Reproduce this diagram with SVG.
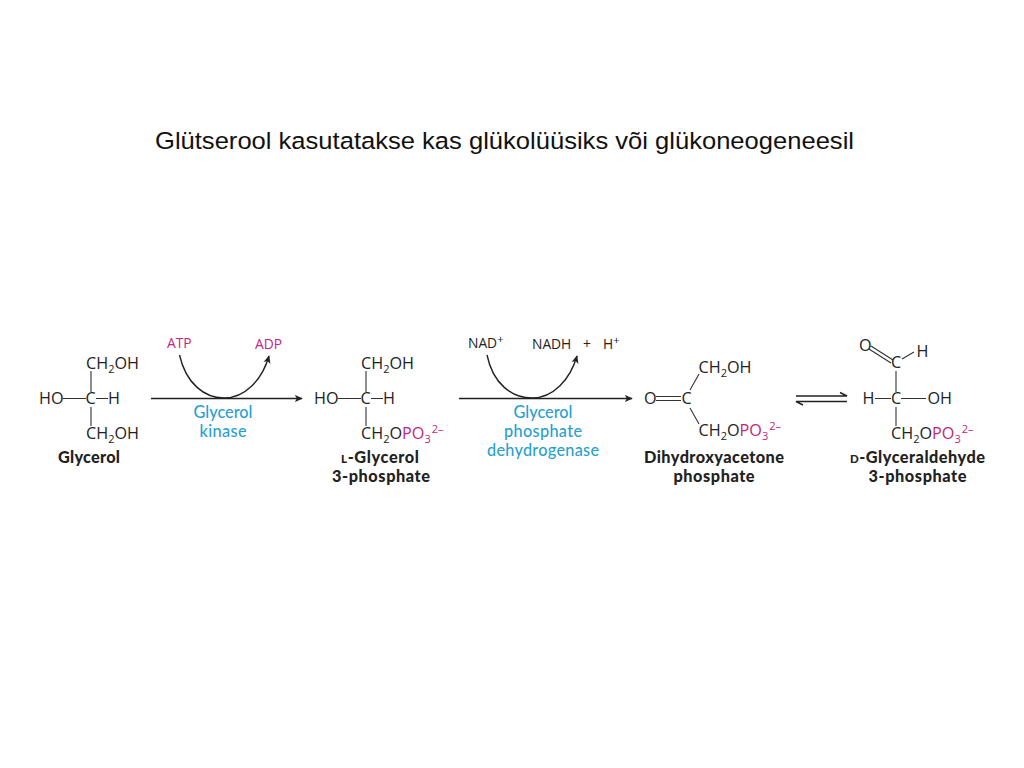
<svg xmlns="http://www.w3.org/2000/svg" width="1024" height="768" viewBox="0 0 1024 768">
<style>
text{font-family:"Open Sans","Noto Sans","Liberation Sans",sans-serif;font-size:16.200px;fill:#222}
.title{font-family:"Liberation Sans",Arial,sans-serif;font-size:24.500px;fill:#111}
.b{font-family:Lato,"Open Sans",sans-serif;font-weight:900;font-size:16.300px;text-anchor:middle}
.sc{font-size:11.500px}
.e{font-family:Lato,"Open Sans",sans-serif;fill:#2a9fd0;font-size:16.300px;text-anchor:middle;font-weight:500}
.m{fill:#c4257f}
.r{font-size:13.800px;font-weight:500}
.s{font-size:11px}
.bond{stroke:#333;stroke-width:1.1;fill:none}
.arr{stroke:#222;stroke-width:1.4;fill:none}
</style>
<defs>
<marker id="h" viewBox="0 0 10 10" refX="9" refY="5" markerWidth="8" markerHeight="8" markerUnits="userSpaceOnUse" orient="auto"><path d="M0 0.5 L10 5 L0 9.5 L2.5 5 Z" fill="#222"/></marker>
</defs>
<text id="title" class="title" x="155" y="149" textLength="699" lengthAdjust="spacingAndGlyphs">Glütserool kasutatakse kas glükolüüsiks või glükoneogeneesil</text>

<g id="connectors">
<path class="arr" d="M151 398.500H302" marker-end="url(#h)"/>
<path class="arr" d="M179.500 355C186 384 205 398 224 398C245 398 262 380 269 356" marker-end="url(#h)"/>
<path class="arr" d="M459 398.500H632" marker-end="url(#h)"/>
<path class="arr" d="M487 355C493 384 512 398 532 398C553 398 570 380 577 356" marker-end="url(#h)"/>
<path class="arr" d="M796 396H847L840 392.500"/>
<path class="arr" d="M847 401.500H796L803 405"/>
</g>

<g id="glycerol">
<path class="bond" d="M91 371V392M91 407V426M62.500 398.500H86M96 398.500H108"/>
<text x="86" y="369">CH<tspan class="s" dy="4">2</tspan><tspan dy="-4">OH</tspan></text>
<text x="39" y="404">HO</text><text x="85.500" y="404">C</text><text x="108" y="404">H</text>
<text x="86" y="439">CH<tspan class="s" dy="4">2</tspan><tspan dy="-4">OH</tspan></text>
<text class="b" x="89" y="463" textLength="62">Glycerol</text>
</g>

<g id="atp"><text class="m r" x="167" y="348">ATP</text></g>
<g id="adp"><text class="m r" x="255" y="349">ADP</text></g>
<g id="enzyme1"><text class="e" x="223" y="418" textLength="59">Glycerol</text><text class="e" x="223" y="437" textLength="47">kinase</text></g>

<g id="g3p">
<path class="bond" d="M366 371V392M366 407V426M338 398.500H361M371 398.500H383"/>
<text x="361" y="369">CH<tspan class="s" dy="4">2</tspan><tspan dy="-4">OH</tspan></text>
<text x="314" y="404">HO</text><text x="360.500" y="404">C</text><text x="383" y="404">H</text>
<text x="361" y="439">CH<tspan class="s" dy="4">2</tspan><tspan dy="-4">O</tspan><tspan class="m">PO</tspan><tspan class="s m" dy="4">3</tspan><tspan class="s m" dy="-10" dx="1">2–</tspan></text>
<text class="b" x="380" y="463" textLength="78"><tspan class="sc">L</tspan>-Glycerol</text>
<text class="b" x="381" y="482" textLength="98">3-phosphate</text>
</g>

<g id="nad"><text class="r" x="468" y="348">NAD<tspan class="s" dy="-5">+</tspan></text></g>
<g id="nadh"><text class="r" x="532" y="349">NADH</text><text class="r" x="583" y="349">+</text><text class="r" x="603" y="349">H<tspan class="s" dy="-5">+</tspan></text></g>
<g id="enzyme2"><text class="e" x="543" y="418" textLength="59">Glycerol</text><text class="e" x="543" y="437" textLength="78">phosphate</text><text class="e" x="543" y="456" textLength="112">dehydrogenase</text></g>

<g id="dhap">
<path class="bond" d="M656 396.500H681M656 400.500H681M690 390L699 374M690 408L699 424"/>
<text x="698.500" y="373">CH<tspan class="s" dy="4">2</tspan><tspan dy="-4">OH</tspan></text>
<text x="644" y="404">O</text><text x="681.500" y="404">C</text>
<text x="698.500" y="436">CH<tspan class="s" dy="4">2</tspan><tspan dy="-4">O</tspan><tspan class="m">PO</tspan><tspan class="s m" dy="4">3</tspan><tspan class="s m" dy="-10" dx="1">2–</tspan></text>
<text class="b" x="714" y="463" textLength="140">Dihydroxyacetone</text>
<text class="b" x="714" y="482" textLength="81">phosphate</text>
</g>

<g id="gap">
<path class="bond" d="M871 346L893 360M869 349L891 363M902 359L914 352M896 371V392M896 407V426M875 398.500H891M901 398.500H926"/>
<text x="859" y="351">O</text><text x="916.500" y="357">H</text><text x="891" y="368">C</text>
<text x="862.500" y="404">H</text><text x="891" y="404">C</text><text x="927.500" y="404">OH</text>
<text x="891" y="439">CH<tspan class="s" dy="4">2</tspan><tspan dy="-4">O</tspan><tspan class="m">PO</tspan><tspan class="s m" dy="4">3</tspan><tspan class="s m" dy="-10" dx="1">2–</tspan></text>
<text class="b" x="917.500" y="463" textLength="135"><tspan class="sc">D</tspan>-Glyceraldehyde</text>
<text class="b" x="917.500" y="482" textLength="98">3-phosphate</text>
</g>
</svg>
